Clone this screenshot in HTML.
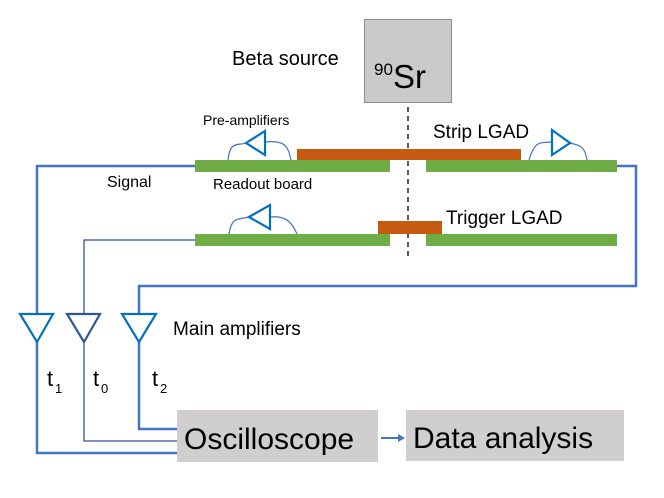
<!DOCTYPE html>
<html><head><meta charset="utf-8"><style>
html,body{margin:0;padding:0;background:#fff;}
svg{display:block;}
text{font-family:"Liberation Sans",sans-serif;fill:#000;}
</style></head><body>
<svg width="664" height="498" viewBox="0 0 664 498" xmlns="http://www.w3.org/2000/svg">
<!-- source -->
<rect x="364.5" y="19.5" width="87" height="83" fill="#cbcacb" stroke="#8c8c8c" stroke-width="1"/>
<text x="374" y="75" font-size="17">90</text>
<text x="393" y="88" font-size="33">Sr</text>
<text x="232" y="65" font-size="20">Beta source</text>
<line x1="408" y1="107" x2="408" y2="258" stroke="#000" stroke-width="1.3" stroke-dasharray="5,4"/>
<!-- boards -->
<rect x="297" y="149" width="224" height="11" fill="#c55a11"/>
<rect x="195" y="160" width="195" height="12" fill="#70ad47"/>
<rect x="426" y="160" width="191" height="12" fill="#70ad47"/>
<rect x="378" y="221" width="64" height="13" fill="#c55a11"/>
<rect x="195" y="234" width="195" height="12" fill="#70ad47"/>
<rect x="426" y="234" width="191" height="12" fill="#70ad47"/>
<!-- preamps -->
<g fill="none" stroke="#4472c4" stroke-width="1.2">
<path d="M228 160 C230 140,238 146,246 143"/><path d="M265 142 C285 140,288 146,291 160"/>
<path d="M529 160 C535 140,540 143,552 142"/><path d="M569 143 C582 145,585 148,587 160"/>
<path d="M229 234 C232 216,238 220,249 217"/><path d="M270 217 C288 215,293 225,297 234"/>
</g>
<g fill="#fff" stroke="#0070c0" stroke-width="2.2">
<polygon points="246,143 265,131 265,155"/>
<polygon points="552,130 552,155 570,143"/>
<polygon points="249,217 270,205 270,229"/>
</g>
<!-- wires -->
<g fill="none" stroke="#4472c4" stroke-width="2.5">
<polyline points="195,166 37,166 37,315"/>
<polyline points="37,342 37,453 178,453"/>
<polyline points="617,166 636,166 636,286 139,286 139,315"/>
<polyline points="139,342 139,429 178,429"/>
</g>
<g fill="none" stroke="#2f5597" stroke-width="1.3">
<polyline points="195,240 84,240 84,315"/>
<polyline points="84,342 84,441 178,441"/>
</g>
<g fill="#fff" stroke-width="2.2">
<polygon points="20,314 53,314 37,342" stroke="#0070c0"/>
<polygon points="67,314 100,314 84,342" stroke="#2f5597"/>
<polygon points="122,314 156,314 139,342" stroke="#0070c0"/>
</g>
<!-- boxes -->
<rect x="177" y="410" width="201" height="52" fill="#d0cece"/>
<rect x="406" y="410" width="218" height="51" fill="#d0cece"/>
<line x1="381" y1="438" x2="398" y2="438" stroke="#4472c4" stroke-width="2"/>
<polygon points="398,434 405,438 398,442" fill="#4472c4"/>
<text x="184" y="449" font-size="30">Oscilloscope</text>
<text x="413" y="448" font-size="30">Data analysis</text>
<!-- labels -->
<text x="433" y="138" font-size="19">Strip LGAD</text>
<text x="446" y="224" font-size="19">Trigger LGAD</text>
<text x="203" y="125" font-size="14">Pre-amplifiers</text>
<text x="213" y="189" font-size="15">Readout board</text>
<text x="107" y="187" font-size="16">Signal</text>
<text x="173" y="335" font-size="19">Main amplifiers</text>
<text x="47" y="386" font-size="22">t</text><text x="55" y="393" font-size="13">1</text>
<text x="93" y="386" font-size="22">t</text><text x="101" y="393" font-size="13">0</text>
<text x="152" y="386" font-size="22">t</text><text x="160" y="393" font-size="13">2</text>
</svg>
</body></html>
